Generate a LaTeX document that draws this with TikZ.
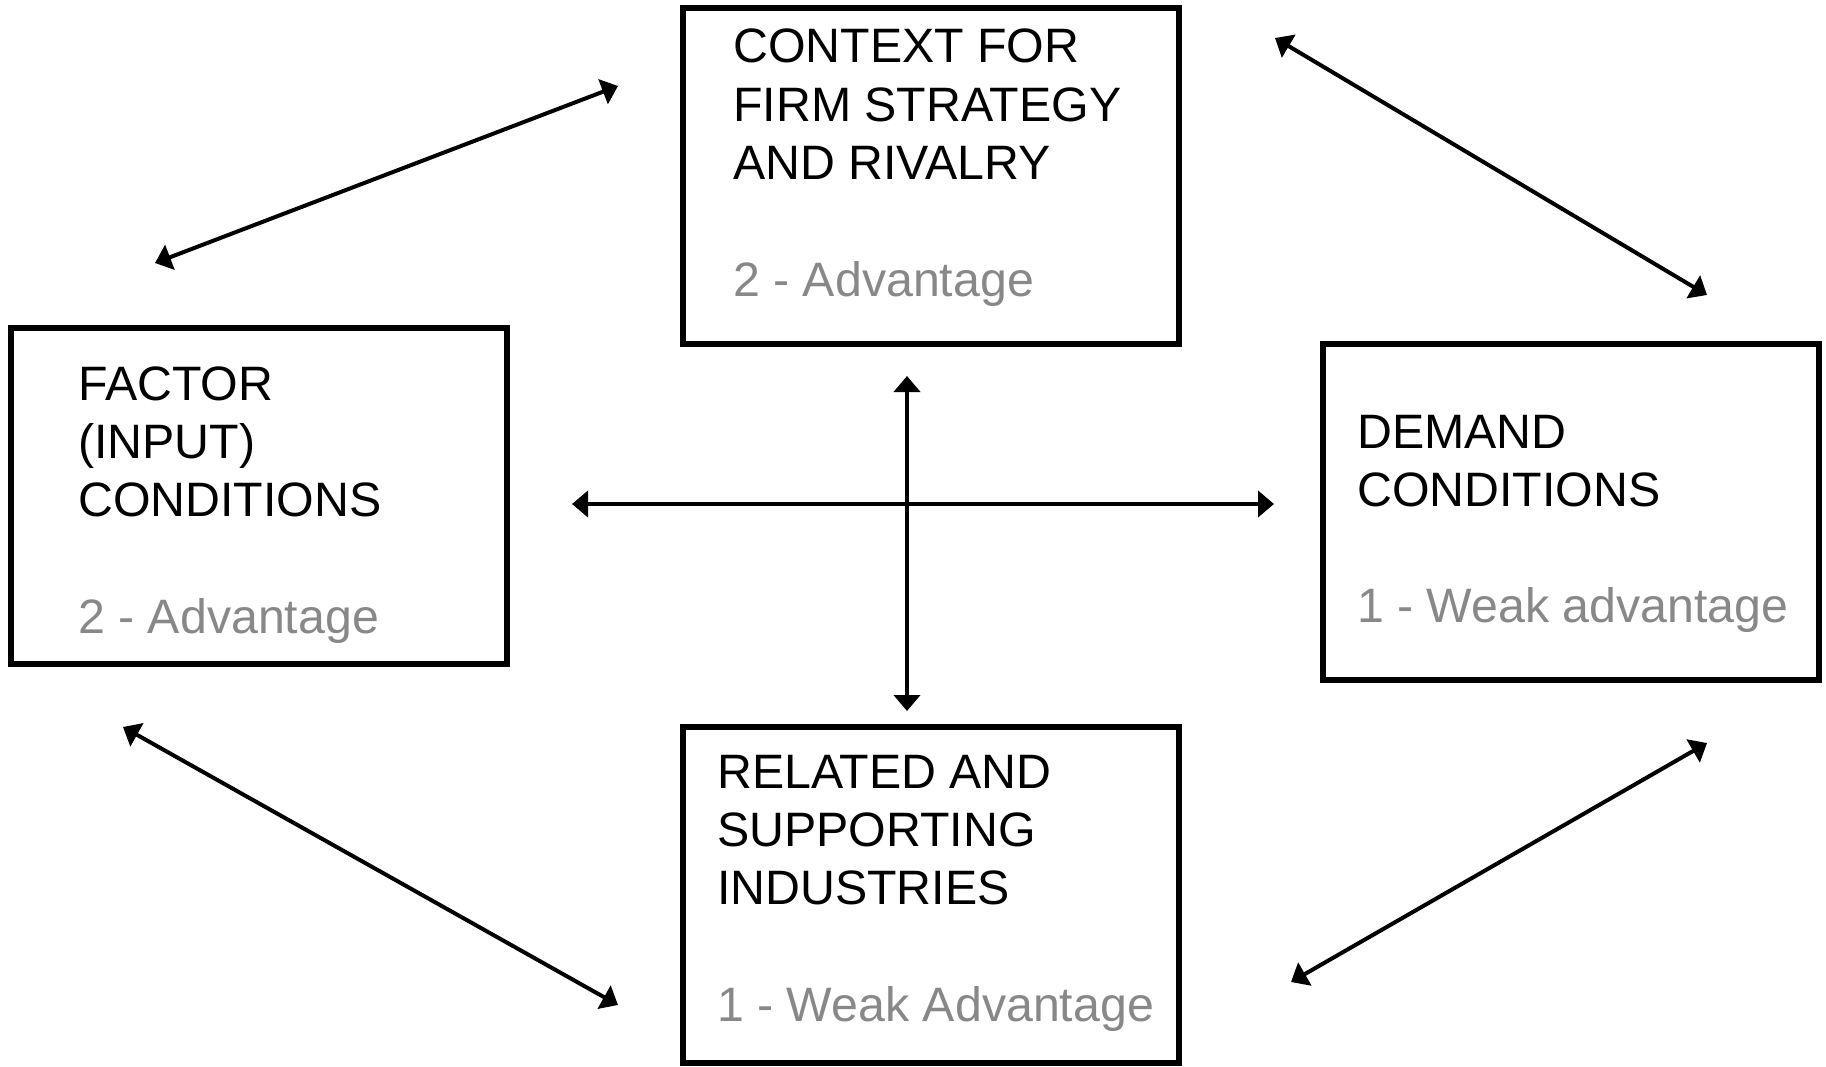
\documentclass[tikz,border=0pt]{standalone}
\usepackage{fontspec}
\setmainfont{Liberation Sans}
\usetikzlibrary{arrows.meta}
\definecolor{ratinggray}{RGB}{136,136,136}
\begin{document}
\begin{tikzpicture}[x=1pt,y=-1pt,
  panel/.style={draw, line width=6pt, minimum width=496pt, minimum height=336pt, inner sep=0pt},
  paneltext/.style={anchor=base west, inner sep=0pt, align=left,
    font=\fontsize{48.3pt}{58.3pt}\selectfont},
  link/.style={line width=4pt,
    {Triangle[length=16pt,width=26pt]}-{Triangle[length=16pt,width=26pt]}}
]
\useasboundingbox (0,0) rectangle (1826,1067);

% the four determinants
\node[panel] (context) at (931,176) {};
\node[panel] (factor)  at (259,496) {};
\node[panel] (demand)  at (1571,512) {};
\node[panel] (related) at (931,895) {};

\node[paneltext] (contextText) at (733,63) {\begin{tabular}[t]{@{}l@{}}CONTEXT FOR\\FIRM STRATEGY\\AND RIVALRY\\ \\ \textcolor{ratinggray}{2 - Advantage}\end{tabular}};
\node[paneltext] (factorText) at (78,400) {\begin{tabular}[t]{@{}l@{}}FACTOR\\(INPUT)\\CONDITIONS\\ \\ \textcolor{ratinggray}{2 - Advantage}\end{tabular}};
\node[paneltext] (demandText) at (1357,448) {\begin{tabular}[t]{@{}l@{}}DEMAND\\CONDITIONS\\ \\ \textcolor{ratinggray}{1 - Weak advantage}\end{tabular}};
\node[paneltext] (relatedText) at (717,788) {\begin{tabular}[t]{@{}l@{}}RELATED AND\\SUPPORTING\\INDUSTRIES\\ \\ \textcolor{ratinggray}{1 - Weak Advantage}\end{tabular}};

% arrow end points
\coordinate (fcA) at (155,263);  \coordinate (fcB) at (618,86);
\coordinate (cdA) at (1275,38);  \coordinate (cdB) at (1707,295);
\coordinate (frA) at (123,727);  \coordinate (frB) at (618,1005);
\coordinate (drA) at (1707,743); \coordinate (drB) at (1291,982);
\coordinate (hA)  at (572,504);  \coordinate (hB)  at (1274,504);
\coordinate (vA)  at (907,376);  \coordinate (vB)  at (907,711);

% mutual reinforcement
\draw[link] (fcA) -- (fcB);
\draw[link] (cdA) -- (cdB);
\draw[link] (frA) -- (frB);
\draw[link] (drA) -- (drB);
\draw[link] (hA) -- (hB);
\draw[link] (vA) -- (vB);
\end{tikzpicture}
\end{document}
